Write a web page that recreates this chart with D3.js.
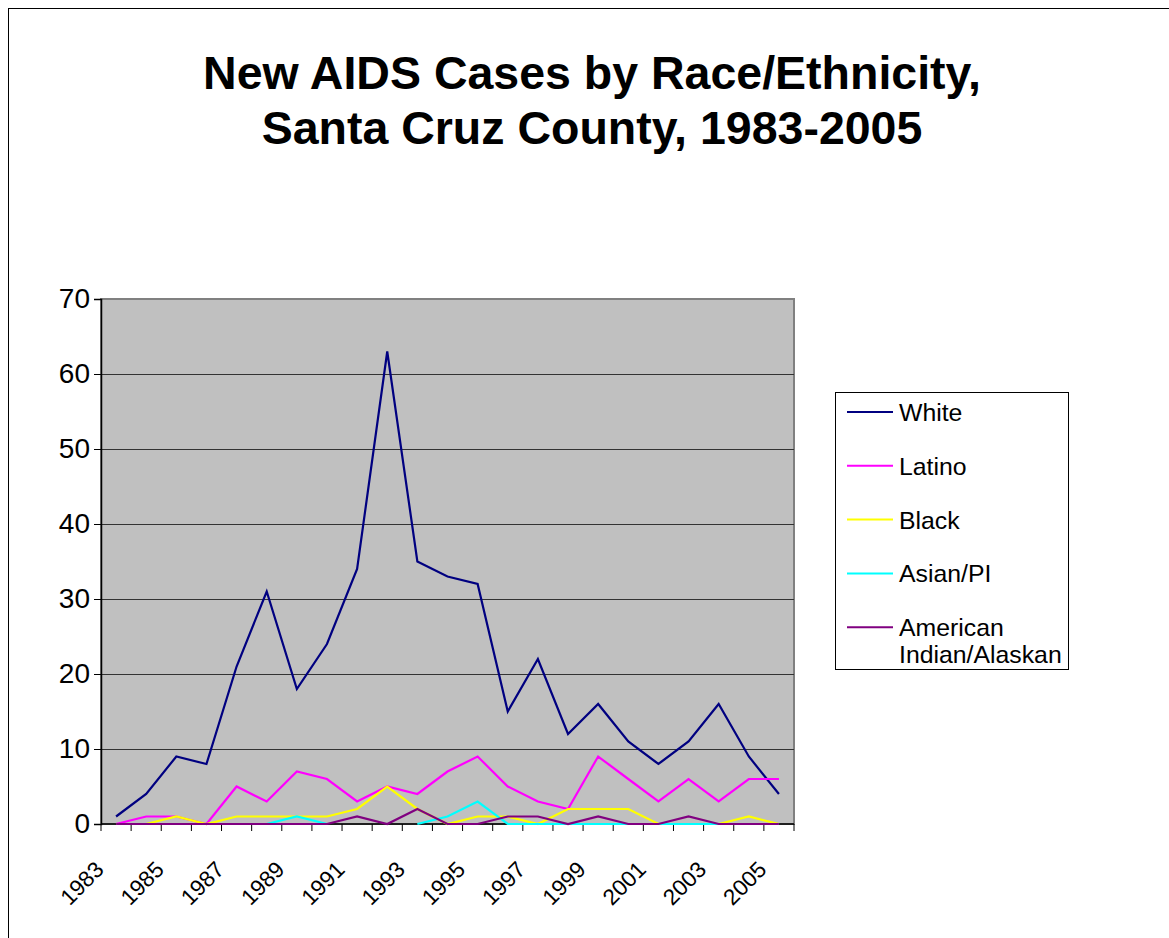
<!DOCTYPE html>
<html>
<head>
<meta charset="utf-8">
<script src="https://cdn.jsdelivr.net/npm/d3@7"></script>
<style>
  html, body { margin: 0; padding: 0; background: #fff; }
  svg { display: block; font-family: "Liberation Sans", Arial, sans-serif; }
</style>
</head>
<body>
<svg id="chart" width="1169" height="938"></svg>
<script>
const years = [1983,1984,1985,1986,1987,1988,1989,1990,1991,1992,1993,1994,1995,1996,1997,1998,1999,2000,2001,2002,2003,2004,2005];
const white  = [1,4,9,8,21,31,18,24,34,63,35,33,32,15,22,12,16,11,8,11,16,9,4];
const latino = [0,1,1,0,5,3,7,6,3,5,4,7,9,5,3,2,9,6,3,6,3,6,6];
const black  = [0,0,1,0,1,1,1,1,2,5,2,0,1,1,0,2,2,2,0,0,0,1,0];
const asian  = [null,null,null,null,null,0,1,0,null,null,0,1,3,0,0,0,0,0,0,0,0,0,0];
const amind  = [0,0,0,0,0,0,0,0,1,0,2,0,0,1,1,0,1,0,0,1,0,0,0];
const xTickLabels = ["1983","1985","1987","1989","1991","1993","1995","1997","1999","2001","2003","2005"];
const yTicks = [0,10,20,30,40,50,60,70];
const seriesNames = ["White","Latino","Black","Asian/PI","American Indian/Alaskan"];
const seriesColors = ["#000080","#FF00FF","#FFFF00","#00FFFF","#800080"];
const titleLines = ["New AIDS Cases by Race/Ethnicity,","Santa Cruz County, 1983-2005"];

const seriesData = [white, latino, black, asian, amind];

const svg = d3.select("#chart");
const W = 1169, H = 938;
const plot = {left: 101, right: 794, top: 299, bottom: 824};

// outer chart border
svg.append("rect").attr("x", 8.5).attr("y", 8.5).attr("width", W + 20).attr("height", H + 20)
  .attr("fill", "#fff").attr("stroke", "#000").attr("stroke-width", 1);

// title
svg.append("text").attr("x", 592).attr("text-anchor", "middle")
  .attr("font-weight", "bold").attr("font-size", 46.5)
  .selectAll("tspan").data(titleLines).join("tspan")
  .attr("x", 592).attr("y", (d, i) => 89 + i * 55).text(d => d);

const x = d3.scaleBand().domain(years).range([plot.left, plot.right]).paddingInner(0).paddingOuter(0);
const y = d3.scaleLinear().domain([0, 70]).range([plot.bottom, plot.top]);
const cx = yr => x(yr) + x.bandwidth() / 2;

// plot area
svg.append("rect").attr("x", plot.left).attr("y", plot.top)
  .attr("width", plot.right - plot.left).attr("height", plot.bottom - plot.top)
  .attr("fill", "#C0C0C0").attr("stroke", "#808080").attr("stroke-width", 2);

// gridlines
svg.append("g").selectAll("line").data(yTicks.filter(t => t > 0 && t < 70)).join("line")
  .attr("x1", plot.left).attr("x2", plot.right)
  .attr("y1", d => Math.round(y(d)) + 0.5).attr("y2", d => Math.round(y(d)) + 0.5)
  .attr("stroke", "#333").attr("stroke-width", 1.2);

// y axis
const yAxis = svg.append("g").attr("transform", `translate(${plot.left},0)`)
  .call(d3.axisLeft(y).tickValues(yTicks).tickSize(7).tickPadding(4).tickFormat(d3.format("d")));
yAxis.select(".domain").attr("stroke", "#000").attr("stroke-width", 1.5);
yAxis.selectAll(".tick line").attr("stroke", "#000");
yAxis.selectAll(".tick text").attr("font-size", 28).attr("font-family", "Liberation Sans, Arial, sans-serif").attr("fill", "#000");

// x axis line
svg.append("line").attr("x1", plot.left).attr("x2", plot.right)
  .attr("y1", plot.bottom).attr("y2", plot.bottom).attr("stroke", "#000").attr("stroke-width", 1.5);
// x ticks at band edges
const edges = years.map(yr => x(yr)).concat([plot.right]);
svg.append("g").selectAll("line").data(edges).join("line")
  .attr("x1", d => d).attr("x2", d => d).attr("y1", plot.bottom).attr("y2", plot.bottom + 7)
  .attr("stroke", "#000").attr("stroke-width", 1);

// x labels
svg.append("g").selectAll("text").data(xTickLabels).join("text")
  .attr("transform", d => `translate(${cx(+d) - 11},${plot.bottom + 47}) rotate(-45)`)
  .attr("text-anchor", "end").attr("font-size", 22.5).attr("fill", "#000")
  .text(d => d);

// lines
const line = d3.line()
  .defined(d => d.v !== null)
  .x(d => cx(d.yr)).y(d => y(d.v));
seriesData.forEach((vals, i) => {
  const pts = years.map((yr, j) => ({yr, v: vals[j]}));
  svg.append("path").datum(pts).attr("d", line)
    .attr("fill", "none").attr("stroke", seriesColors[i]).attr("stroke-width", 2.2)
    .attr("stroke-linejoin", "miter");
});

// legend
const lg = svg.append("g");
lg.append("rect").attr("x", 835.5).attr("y", 392.5).attr("width", 233).attr("height", 277)
  .attr("fill", "#fff").attr("stroke", "#000").attr("stroke-width", 1);
const legendRows = [["White"],["Latino"],["Black"],["Asian/PI"],["American","Indian/Alaskan"]];
legendRows.forEach((lines, i) => {
  const yy = 412 + i * 53.8;
  lg.append("line").attr("x1", 847).attr("x2", 893).attr("y1", yy).attr("y2", yy)
    .attr("stroke", seriesColors[i]).attr("stroke-width", 2);
  const t = lg.append("text").attr("font-size", 24.8).attr("fill", "#000");
  lines.forEach((ln, k) => {
    t.append("tspan").attr("x", 899).attr("y", yy + 9 + k * 27).text(ln);
  });
});
</script>
</body>
</html>
